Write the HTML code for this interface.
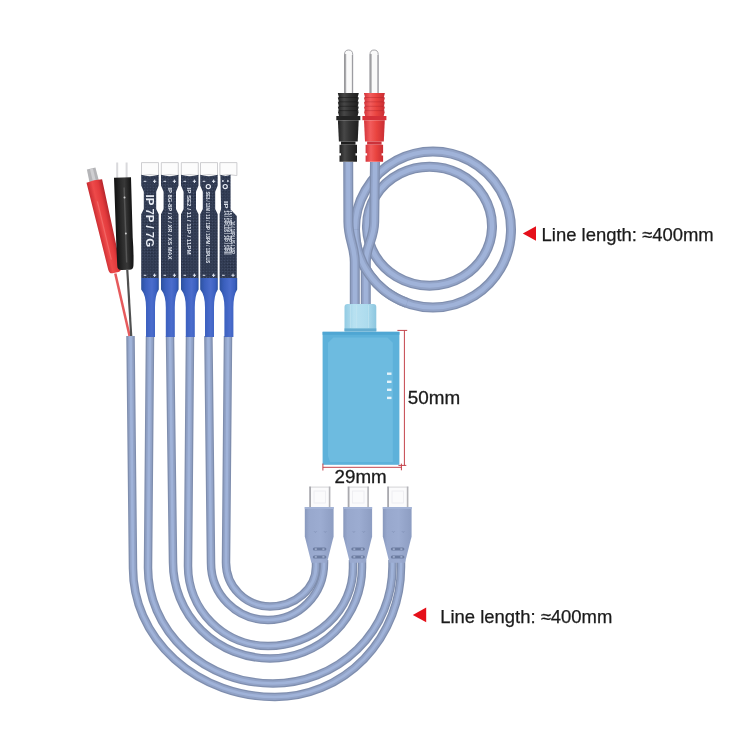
<!DOCTYPE html>
<html><head><meta charset="utf-8">
<style>
html,body{margin:0;padding:0;background:#fff;width:750px;height:750px;overflow:hidden}
svg{display:block;filter:blur(0.3px)}
text{font-family:"Liberation Sans",sans-serif}
</style></head><body>
<svg width="750" height="750" viewBox="0 0 750 750">
<defs>
<linearGradient id="gBlk" x1="0" x2="1"><stop offset="0" stop-color="#222"/><stop offset="0.3" stop-color="#474747"/><stop offset="0.55" stop-color="#343434"/><stop offset="1" stop-color="#1e1e1e"/></linearGradient>
<linearGradient id="gRed" x1="0" x2="1"><stop offset="0" stop-color="#d4333a"/><stop offset="0.3" stop-color="#f25c5c"/><stop offset="0.6" stop-color="#e9443f"/><stop offset="1" stop-color="#c92d34"/></linearGradient>
<linearGradient id="gPin" x1="0" x2="1"><stop offset="0" stop-color="#9a9a9e"/><stop offset="0.2" stop-color="#e8e8ea"/><stop offset="0.5" stop-color="#f6f6f7"/><stop offset="0.8" stop-color="#d8d8dc"/><stop offset="1" stop-color="#8c8c90"/></linearGradient>
<linearGradient id="gBoot" x1="0" x2="1"><stop offset="0" stop-color="#2c519e"/><stop offset="0.25" stop-color="#3a5fbd"/><stop offset="0.6" stop-color="#4b6dcd"/><stop offset="0.85" stop-color="#3b60c0"/><stop offset="1" stop-color="#2b4f9c"/></linearGradient>
<linearGradient id="gUsb" x1="0" x2="1"><stop offset="0" stop-color="#8898bc"/><stop offset="0.15" stop-color="#98a8cd"/><stop offset="0.55" stop-color="#9cacd1"/><stop offset="1" stop-color="#8d9dc2"/></linearGradient>
<linearGradient id="gBox" x1="0" x2="1"><stop offset="0" stop-color="#4fa6d2"/><stop offset="0.08" stop-color="#66b4dc"/><stop offset="0.5" stop-color="#6fbade"/><stop offset="0.92" stop-color="#68b6dc"/><stop offset="1" stop-color="#5aaed6"/></linearGradient>
<linearGradient id="gCol" x1="0" x2="1"><stop offset="0" stop-color="#92cbe3"/><stop offset="0.3" stop-color="#b8e1f1"/><stop offset="0.7" stop-color="#aedcee"/><stop offset="1" stop-color="#8cc6df"/></linearGradient>
<linearGradient id="gRedClip" x1="0" x2="1"><stop offset="0" stop-color="#c82a30"/><stop offset="0.35" stop-color="#ee4a4a"/><stop offset="0.7" stop-color="#e23a3c"/><stop offset="1" stop-color="#b3242a"/></linearGradient>
<linearGradient id="gBlkClip" x1="0" x2="1"><stop offset="0" stop-color="#111"/><stop offset="0.4" stop-color="#2e2e2e"/><stop offset="0.6" stop-color="#383838"/><stop offset="1" stop-color="#121212"/></linearGradient>
</defs>
<rect width="750" height="750" fill="#fff"/>

<!-- bottom U cables -->
<g fill="none" stroke-linejoin="round">
<path d="M130.5 336 L133 568.5 A142 128.5 0 0 0 275 697 A126 130 0 0 0 401 567 L401 560" stroke="#7f8eae" stroke-width="8.5"/><path d="M130.5 336 L133 568.5 A142 128.5 0 0 0 275 697 A126 130 0 0 0 401 567 L401 560" stroke="#92a3c7" stroke-width="5.9"/><path d="M130.5 336 L133 568.5 A142 128.5 0 0 0 275 697 A126 130 0 0 0 401 567 L401 560" stroke="#a0b3d9" stroke-width="2.7"/>
<path d="M150 336 L148 568.0 A125 115.5 0 0 0 273 683.5 A119.5 117 0 0 0 392.5 566.5 L392.5 560" stroke="#7f8eae" stroke-width="8.5"/><path d="M150 336 L148 568.0 A125 115.5 0 0 0 273 683.5 A119.5 117 0 0 0 392.5 566.5 L392.5 560" stroke="#92a3c7" stroke-width="5.9"/><path d="M150 336 L148 568.0 A125 115.5 0 0 0 273 683.5 A119.5 117 0 0 0 392.5 566.5 L392.5 560" stroke="#a0b3d9" stroke-width="2.7"/>
<path d="M170 336 L173 562.5 A97 96 0 0 0 270 658.5 A92 91 0 0 0 362 567.5 L362 560" stroke="#7f8eae" stroke-width="8.5"/><path d="M170 336 L173 562.5 A97 96 0 0 0 270 658.5 A92 91 0 0 0 362 567.5 L362 560" stroke="#92a3c7" stroke-width="5.9"/><path d="M170 336 L173 562.5 A97 96 0 0 0 270 658.5 A92 91 0 0 0 362 567.5 L362 560" stroke="#a0b3d9" stroke-width="2.7"/>
<path d="M190 336 L188 566 A80 80 0 0 0 268 646 A85 78 0 0 0 353 568 L353 560" stroke="#7f8eae" stroke-width="8.5"/><path d="M190 336 L188 566 A80 80 0 0 0 268 646 A85 78 0 0 0 353 568 L353 560" stroke="#92a3c7" stroke-width="5.9"/><path d="M190 336 L188 566 A80 80 0 0 0 268 646 A85 78 0 0 0 353 568 L353 560" stroke="#a0b3d9" stroke-width="2.7"/>
<path d="M208.4 336 L211 563 A57 57 0 0 0 268 620 A56 57 0 0 0 324 563 L324 560" stroke="#7f8eae" stroke-width="8.5"/><path d="M208.4 336 L211 563 A57 57 0 0 0 268 620 A56 57 0 0 0 324 563 L324 560" stroke="#92a3c7" stroke-width="5.9"/><path d="M208.4 336 L211 563 A57 57 0 0 0 268 620 A56 57 0 0 0 324 563 L324 560" stroke="#a0b3d9" stroke-width="2.7"/>
<path d="M228 336 L226 562.5 A44 44 0 0 0 270 606.5 A46 40 0 0 0 316 566.5 L316 560" stroke="#7f8eae" stroke-width="8.5"/><path d="M228 336 L226 562.5 A44 44 0 0 0 270 606.5 A46 40 0 0 0 316 566.5 L316 560" stroke="#92a3c7" stroke-width="5.9"/><path d="M228 336 L226 562.5 A44 44 0 0 0 270 606.5 A46 40 0 0 0 316 566.5 L316 560" stroke="#a0b3d9" stroke-width="2.7"/>
</g>

<!-- loop cables -->
<g fill="none">
<path d="M433 151.5 A78 78 0 1 1 432.99 151.5 Z" stroke="#7f8eae" stroke-width="10"/><path d="M433 151.5 A78 78 0 1 1 432.99 151.5 Z" stroke="#92a3c7" stroke-width="7.4"/><path d="M433 151.5 A78 78 0 1 1 432.99 151.5 Z" stroke="#a0b3d9" stroke-width="4.2"/>
<path d="M429.5 166.7 A62.5 59.5 0 1 1 429.49 166.7 Z" stroke="#7f8eae" stroke-width="10"/><path d="M429.5 166.7 A62.5 59.5 0 1 1 429.49 166.7 Z" stroke="#92a3c7" stroke-width="7.4"/><path d="M429.5 166.7 A62.5 59.5 0 1 1 429.49 166.7 Z" stroke="#a0b3d9" stroke-width="4.2"/>
<path d="M375 162 L374.2 222 C373.8 240 366 245 365.8 262 L365.8 306" stroke="#7f8eae" stroke-width="10"/><path d="M375 162 L374.2 222 C373.8 240 366 245 365.8 262 L365.8 306" stroke="#92a3c7" stroke-width="7.4"/><path d="M375 162 L374.2 222 C373.8 240 366 245 365.8 262 L365.8 306" stroke="#a0b3d9" stroke-width="4.2"/>
<path d="M355 229.5 A78 78 0 0 0 406.89 303" stroke="#7f8eae" stroke-width="10"/><path d="M355 229.5 A78 78 0 0 0 406.89 303" stroke="#92a3c7" stroke-width="7.4"/><path d="M355 229.5 A78 78 0 0 0 406.89 303" stroke="#a0b3d9" stroke-width="4.2"/>
<path d="M348.2 162 L348.4 222 C348.6 240 354.6 245 354.8 262 L354.8 306" stroke="#7f8eae" stroke-width="10"/><path d="M348.2 162 L348.4 222 C348.6 240 354.6 245 354.8 262 L354.8 306" stroke="#92a3c7" stroke-width="7.4"/><path d="M348.2 162 L348.4 222 C348.6 240 354.6 245 354.8 262 L354.8 306" stroke="#a0b3d9" stroke-width="4.2"/>
</g>

<!-- banana plugs -->
<g transform="translate(343.9 0)">
<path d="M0.6 94 L0.6 54.5 Q0.6 50 4.7 50 Q8.8 50 8.8 54.5 L8.8 94 Z" fill="#fafafa" stroke="#9c9ca0" stroke-width="0.9"/><rect x="0.3" y="54" width="2" height="40" fill="#8e8e92" opacity="0.75"/><rect x="7.9" y="55" width="1.2" height="39" fill="#8e8e92" opacity="0.6"/>
<path d="M-6 93 L14.8 93 L14.80 93.40 L13.80 97.20 L14.80 98.00 L13.80 101.80 L14.80 102.60 L13.80 106.40 L14.80 107.20 L13.80 111.00 L14.80 111.80 L13.80 115.60 L13.8 116 L-5.0 116 L-5.00 115.60 L-6.00 111.80 L-5.00 111.00 L-6.00 107.20 L-5.00 106.40 L-6.00 102.60 L-5.00 101.80 L-6.00 98.00 L-5.00 97.20 L-6.00 93.40 Z" fill="url(#gBlk)"/>
<g fill="#111" opacity="0.5"><rect x="-6" y="97" width="20.8" height="0.9"/><rect x="-6" y="101.4" width="20.8" height="0.9"/><rect x="-6" y="105.8" width="20.8" height="0.9"/><rect x="-6" y="110.2" width="20.8" height="0.9"/></g>
<path d="M-7.6 116 L16.4 116 L16.4 120.2 L-7.6 120.2 Z" fill="#242424"/>
<path d="M-6 120.2 L14.8 120.2 L13.8 141.5 L-5 141.5 Z" fill="url(#gBlk)"/>
<path d="M-2.9 141.5 L11.6 141.5 L11.6 144.7 L-2.9 144.7 Z" fill="#1e1e1e"/>
<path d="M-4.4 144.7 L13.1 144.7 L13.1 153.3 L11.6 153.3 L11.6 155.4 L13.1 155.4 L13.1 161.8 L-4.4 161.8 L-4.4 155.4 L-2.9 155.4 L-2.9 153.3 L-4.4 153.3 Z" fill="url(#gBlk)"/>
</g>
<g transform="translate(369.4 0)">
<path d="M0.6 94 L0.6 54.5 Q0.6 50 4.7 50 Q8.8 50 8.8 54.5 L8.8 94 Z" fill="#fafafa" stroke="#9c9ca0" stroke-width="0.9"/><rect x="0.3" y="54" width="2" height="40" fill="#8e8e92" opacity="0.75"/><rect x="7.9" y="55" width="1.2" height="39" fill="#8e8e92" opacity="0.6"/>
<path d="M-5.4 93 L15.4 93 L15.40 93.40 L14.40 97.20 L15.40 98.00 L14.40 101.80 L15.40 102.60 L14.40 106.40 L15.40 107.20 L14.40 111.00 L15.40 111.80 L14.40 115.60 L14.4 116 L-4.4 116 L-4.40 115.60 L-5.40 111.80 L-4.40 111.00 L-5.40 107.20 L-4.40 106.40 L-5.40 102.60 L-4.40 101.80 L-5.40 98.00 L-4.40 97.20 L-5.40 93.40 Z" fill="url(#gRed)"/>
<g fill="#a81d25" opacity="0.4"><rect x="-5.4" y="97" width="20.8" height="0.9"/><rect x="-5.4" y="101.4" width="20.8" height="0.9"/><rect x="-5.4" y="105.8" width="20.8" height="0.9"/><rect x="-5.4" y="110.2" width="20.8" height="0.9"/></g>
<path d="M-7 116 L17 116 L17 120.2 L-7 120.2 Z" fill="#d53139"/>
<path d="M-5.4 120.2 L15.4 120.2 L14.4 141.5 L-4.4 141.5 Z" fill="url(#gRed)"/>
<path d="M-2.3 141.5 L12.2 141.5 L12.2 144.7 L-2.3 144.7 Z" fill="#cc323a"/>
<path d="M-3.8 144.7 L13.7 144.7 L13.7 153.3 L12.2 153.3 L12.2 155.4 L13.7 155.4 L13.7 161.8 L-3.8 161.8 L-3.8 155.4 L-2.3 155.4 L-2.3 153.3 L-3.8 153.3 Z" fill="url(#gRed)"/>
</g>

<!-- module box -->
<g>
<path d="M344.5 331 L344.5 307 Q344.5 304 347.5 304 L373.3 304 Q376.3 304 376.3 307 L376.3 331 Z" fill="url(#gCol)"/>
<g fill="#c4e6f2" opacity="0.6"><rect x="350" y="305" width="1" height="23"/><rect x="356" y="305" width="1" height="23"/><rect x="368" y="305" width="1" height="23"/></g>
<rect x="344.5" y="328.4" width="31.8" height="3.2" fill="#64acd0"/>
<rect x="322.6" y="331.8" width="76.8" height="133" fill="#5db1da"/>
<rect x="322.6" y="331.8" width="76.8" height="3" fill="#4fa6d3"/>
<path d="M333.4 337.4 L387.4 337.4 L392.8 342.8 L392.8 462 L330 462 L328 456 L328 342.8 Z" fill="#6dbbe0"/>
<g fill="#e4f3fa">
<rect x="387" y="372.5" width="4.5" height="2.4"/><rect x="387" y="380.6" width="4.5" height="2.4"/><rect x="387" y="388.6" width="4.5" height="2.4"/><rect x="387" y="396.7" width="4.5" height="2.4"/>
</g>
</g>

<!-- dimension lines -->
<g stroke="#c4444c" stroke-width="1" fill="none">
<path d="M404.4 330.4 L404.4 465.6"/>
<path d="M397.4 330.4 L407.2 330.4"/>
<path d="M398.4 465.4 L406.3 465.4"/>
<path d="M401.4 463.6 L401.4 470.3"/>
<path d="M322.9 467.3 L401.4 467.3"/>
<path d="M322.9 463.5 L322.9 470.5"/>
</g>
<text x="407.8" y="404.2" font-size="18.85" fill="#1a1a1a" stroke="#1a1a1a" stroke-width="0.3">50mm</text>
<text x="334.6" y="483.4" font-size="18.75" fill="#1a1a1a" stroke="#1a1a1a" stroke-width="0.3">29mm</text>

<!-- USB-C connectors -->
<g id="usbc">
<rect x="309.2" y="486.6" width="21.2" height="20.6" fill="#fbfbfc"/>
<rect x="309.2" y="486.6" width="21.2" height="1" fill="#d4d4d8"/>
<rect x="309.2" y="486.6" width="1.8" height="20.6" fill="#a9a9ae"/>
<rect x="328.8" y="486.6" width="1.6" height="20.6" fill="#b4b4b8"/>
<rect x="314" y="491" width="11.5" height="12" fill="none" stroke="#ececef" stroke-width="0.8"/>
<path d="M304.8 507 L333.6 507 L333.6 536.4 L327 562.8 L311.4 562.8 L304.8 536.4 Z" fill="url(#gUsb)"/>
<rect x="304.8" y="507" width="28.8" height="2" fill="#a3b3d6"/>
<g fill="#6c7ca0"><path d="M313.4 531 L315.4 532.6 L317.4 531 L315.4 532 Z"/><path d="M323.2 531 L325.2 532.6 L327.2 531 L325.2 532 Z"/>
<rect x="312.8" y="547.6" width="13.6" height="3" rx="1.5"/><rect x="312.8" y="555.4" width="13.6" height="3" rx="1.5"/></g>
<g fill="#a8b6d6"><rect x="314.8" y="548.4" width="2" height="1.4"/><rect x="322.4" y="548.4" width="2" height="1.4"/><rect x="314.8" y="556.2" width="2" height="1.4"/><rect x="322.4" y="556.2" width="2" height="1.4"/></g>
</g>
<use href="#usbc" x="38.5"/>
<use href="#usbc" x="78"/>
<!-- FPC strips -->
<defs>
<pattern id="weave" width="2.2" height="2.2" patternUnits="userSpaceOnUse" patternTransform="rotate(45)">
<rect width="2.2" height="2.2" fill="#242d42"/><rect width="1.1" height="1.1" fill="#47536e"/><rect x="1.1" y="1.1" width="1.1" height="1.1" fill="#3a455e"/>
</pattern>
<g id="tab"><path d="M0.3 162.6 L17.3 162.6 L17.3 175.6 Q8.75 173.5 0.3 175.6 Z" fill="#fcfcfc" stroke="#c8c8cc" stroke-width="0.9"/></g>
<g id="boot"><path d="M0 278 L17.6 278 L17.6 289.5 Q13.8 295 13.8 307.6 L13.8 337 L4.8 337 L4.8 307.6 Q4.8 295 0 289.5 Z" fill="url(#gBoot)"/></g>
<g id="pm" fill="#dfe5f0"><rect x="2.5" y="274.8" width="2.6" height="1"/><rect x="11.8" y="274.8" width="3.2" height="1"/><rect x="12.9" y="273.6" width="1" height="3.4"/>
<rect x="2.5" y="180.8" width="2.6" height="1"/><rect x="11.8" y="180.8" width="3.2" height="1"/><rect x="12.9" y="179.6" width="1" height="3.4"/></g>
<path id="strip" d="M0 174.8 Q8.75 177.5 17.5 174.8 L17.5 185.6 L15 191.7 L15 209 L17.5 214.2 L17.5 278 L0 278 L0 214.2 L2.6 209 L2.6 191.7 L0 185.6 Z"/>
</defs>
<g transform="translate(141.2 0)"><use href="#tab"/><use href="#strip" fill="url(#weave)"/><use href="#boot"/><use href="#pm"/>
<text transform="translate(4.5 194.6) rotate(90)" font-size="11.3" font-weight="bold" fill="#e9edf5" textLength="52.5" lengthAdjust="spacingAndGlyphs">IP 7P / 7G</text></g>
<g transform="translate(161 0)"><use href="#tab"/><use href="#strip" fill="url(#weave)"/><use href="#boot"/><use href="#pm"/>
<text transform="translate(7 187.5) rotate(90)" font-size="6.2" font-weight="bold" fill="#dfe4ee" textLength="72" lengthAdjust="spacingAndGlyphs">IP 8G-8P / X / XR / XS MAX</text></g>
<g transform="translate(181 0)"><use href="#tab"/><use href="#strip" fill="url(#weave)"/><use href="#boot"/><use href="#pm"/>
<text transform="translate(6.2 187.5) rotate(90)" font-size="6.2" font-weight="bold" fill="#dfe4ee" textLength="67" lengthAdjust="spacingAndGlyphs">IP SE2 / 11 / 11P / 11PM</text></g>
<g transform="translate(200.2 0)"><use href="#tab"/><use href="#strip" fill="url(#weave)"/><use href="#boot"/>
<g fill="#dfe5f0"><rect x="2.5" y="274.8" width="2.6" height="1"/><rect x="11.8" y="274.8" width="3.2" height="1"/><rect x="12.9" y="273.6" width="1" height="3.4"/><rect x="2.5" y="180.8" width="2.6" height="1"/><rect x="11.8" y="180.8" width="3.2" height="1"/><rect x="12.9" y="179.6" width="1" height="3.4"/></g>
<circle cx="8.1" cy="186.6" r="2.1" fill="none" stroke="#e9edf5" stroke-width="1.2"/>
<text transform="translate(6.2 191.4) rotate(90)" font-size="6.2" font-weight="bold" fill="#dfe4ee" textLength="72" lengthAdjust="spacingAndGlyphs">SE3 / 12M / 13 / 13P / 13PM / 13PLUS</text></g>
<g transform="translate(219.6 0)"><use href="#tab"/>
<path d="M0.8 174.8 Q6 177 11 174.8 L11 209.5 L17.2 216 L17.2 278 L0 278 L0 214 L1.5 209 Z" fill="url(#weave)"/><use href="#boot"/>
<g fill="#dfe5f0"><rect x="2.5" y="274.8" width="2.6" height="1"/><circle cx="3.3" cy="181" r="0.9"/><circle cx="8.3" cy="181" r="0.9"/><rect x="11.8" y="274.8" width="3.2" height="1"/><rect x="12.9" y="273.6" width="1" height="3.4"/></g>
<circle cx="5.6" cy="186.6" r="2.1" fill="none" stroke="#e9edf5" stroke-width="1.2"/>
<text transform="translate(4.2 201) rotate(90)" font-size="6" font-weight="bold" fill="#dfe4ee" textLength="7.5" lengthAdjust="spacingAndGlyphs">IP</text>
<text transform="translate(4.6 210.6) rotate(90)" font-size="4.6" font-weight="bold" fill="#dfe4ee" textLength="44" lengthAdjust="spacingAndGlyphs">14 / 14PLUS / 14P / 14PM</text>
<text transform="translate(8.2 210.6) rotate(90)" font-size="4.6" font-weight="bold" fill="#dfe4ee" textLength="44" lengthAdjust="spacingAndGlyphs">15 / 15PLUS / 15P / 15PM</text>
<text transform="translate(11.6 221) rotate(90)" font-size="4.6" font-weight="bold" fill="#dfe4ee" textLength="33" lengthAdjust="spacingAndGlyphs">16 / 16PLUS / 16P</text>
</g>

<!-- clips -->
<g transform="translate(94.4 181.5) rotate(-13.1)">
<path d="M-4.6 -13.5 L4.2 -13.5 L4.6 0.5 L-5 0.5 Z" fill="#b4b4b7"/>
<path d="M-1.5 -13 L1.5 -13 L1.6 0 L-1.5 0 Z" fill="#cfcfd2"/>
<path d="M-8 -0.5 Q0 -2 8 -0.5 L6.5 89 Q6.3 93.5 3 93.5 L-3 93.5 Q-6.3 93.5 -6.5 89 Z" fill="url(#gRedClip)"/>
<path d="M-2.2 20 L-1 20 L-0.6 80 L-1.8 80 Z" fill="#f57a78" opacity="0.6"/>
</g>
<path d="M115.3 273.5 L129.6 336" stroke="#e65a5c" stroke-width="2.5" fill="none"/>
<path d="M127.3 270 L131.2 336" stroke="#505050" stroke-width="2.2" fill="none"/>
<g fill="#d9d9dc"><rect x="116.2" y="162.5" width="2" height="15.5"/><rect x="125.6" y="162.5" width="2" height="15.5"/></g>
<g transform="translate(122.5 177.5) rotate(-1.8)">
<path d="M-8.5 0 L8.5 0 L8.3 60 Q9 75 8.2 88 Q8 92.5 4 92.5 L-4 92.5 Q-8 92.5 -8 88 Q-8.3 70 -8.3 60 Z" fill="url(#gBlkClip)"/>
<path d="M0.6 10 L2 10 L2.2 85 L0.8 85 Z" fill="#6a6a6a" opacity="0.6"/>
<circle cx="1.4" cy="20" r="1" fill="#cfcfcf"/><circle cx="1.6" cy="56" r="1" fill="#cfcfcf"/>
</g>

<!-- labels -->
<path d="M522.8 233.5 L536 226.2 L536 240.8 Z" fill="#e5101a"/>
<text x="541.6" y="240.5" font-size="18.45" fill="#1a1a1a" stroke="#1a1a1a" stroke-width="0.25">Line length: ≈400mm</text>
<path d="M412.8 615 L426.2 607.6 L426.2 622.2 Z" fill="#e5101a"/>
<text x="440.2" y="622.8" font-size="18.45" fill="#1a1a1a" stroke="#1a1a1a" stroke-width="0.25">Line length: ≈400mm</text>
</svg>
</body></html>
